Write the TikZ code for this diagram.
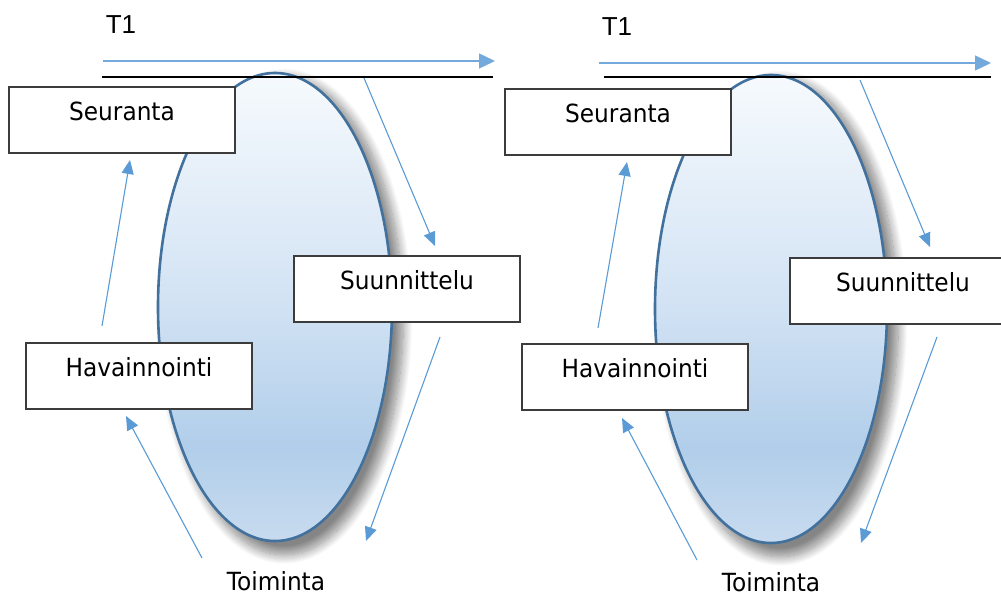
\documentclass[tikz,border=0pt]{standalone}
\usepackage{fontspec}
\setmainfont{DejaVu Sans}[FakeStretch=0.93]
\newfontfamily\tfont{Liberation Sans}
\usetikzlibrary{arrows.meta,shapes.geometric,shadows.blur}
\definecolor{arrowblue}{HTML}{5B9BD5}
\definecolor{ellborder}{HTML}{41719C}
\definecolor{boxborder}{HTML}{3C3C3C}
\definecolor{ctop}{HTML}{F6FAFD}
\definecolor{cmid}{HTML}{D3E3F4}
\definecolor{cdeep}{HTML}{B1CEEA}
\definecolor{cbot}{HTML}{C8DBEF}
\pgfdeclareverticalshading{ellshade}{100bp}{color(0bp)=(cbot); color(25bp)=(cbot); color(35bp)=(cdeep); color(51bp)=(cmid); color(75bp)=(ctop); color(100bp)=(ctop)}
\tikzset{
  cycleell/.style={ellipse, draw=ellborder, line width=2.6pt, shade, shading=ellshade,
    inner sep=0pt, minimum width=234pt, minimum height=468pt,
    blur shadow={shadow xshift=9pt, shadow yshift=-9pt, shadow scale=1.02, shadow blur radius=9pt, shadow blur steps=16, shadow opacity=48}},
  stagebox/.style={draw=boxborder, line width=1.6pt, fill=white, minimum width=226pt,
    inner xsep=0pt, inner ysep=0pt, text height=34pt, text depth=32pt,
    font=\fontsize{25}{30}\selectfont, anchor=north},
  plainlabel/.style={font=\fontsize{25}{30}\selectfont, anchor=base, inner sep=0pt},
  tlabel/.style={font=\tfont\fontsize{26}{30}\selectfont, anchor=base, inner sep=0pt},
  flow/.style={draw=arrowblue, line width=1.1pt, -{Triangle[length=14pt,width=12pt]}},
  timeflow/.style={draw=arrowblue!85, line width=1.4pt, -{Triangle[length=16pt,width=15pt]}},
  baseline/.style={draw=black, line width=1.3pt}
}
\begin{document}
\begin{tikzpicture}[x=1pt,y=-1pt]
\useasboundingbox (0,0) rectangle (1001,596);
% ---------- left panel ----------
\node[cycleell] (E1) at (275,307) {};
\coordinate (L1a) at (102,77); \coordinate (L1b) at (493,77);
\draw[baseline] (L1a) -- (L1b);
\coordinate (A1a) at (103,61); \coordinate (A1b) at (495,61);
\draw[timeflow] (A1a) -- (A1b);
\node[tlabel] (T1a) at (121,34) {T1};
\node[stagebox] (S1) at (122,86) {Seuranta};
\node[stagebox] (P1) at (407,255) {Suunnittelu};
\node[stagebox] (H1) at (139,342) {Havainnointi};
\node[plainlabel] (O1) at (276,590) {Toiminta};
\coordinate (f1s) at (364,78); \coordinate (f1e) at (435,246);
\coordinate (f2s) at (440,337); \coordinate (f2e) at (366,541);
\coordinate (f3s) at (202,558); \coordinate (f3e) at (126,416);
\coordinate (f4s) at (102,326); \coordinate (f4e) at (130,160);
\draw[flow] (f1s) -- (f1e);
\draw[flow] (f2s) -- (f2e);
\draw[flow] (f3s) -- (f3e);
\draw[flow] (f4s) -- (f4e);
% ---------- right panel ----------
\node[cycleell, minimum width=232pt] (E2) at (771,309) {};
\coordinate (L2a) at (604,77); \coordinate (L2b) at (991,77);
\draw[baseline] (L2a) -- (L2b);
\coordinate (A2a) at (599,63); \coordinate (A2b) at (991,63);
\draw[timeflow] (A2a) -- (A2b);
\node[tlabel] (T1b) at (617,36) {T1};
\node[stagebox] (S2) at (618,88) {Seuranta};
\node[stagebox] (P2) at (903,257) {Suunnittelu};
\node[stagebox] (H2) at (635,343) {Havainnointi};
\node[plainlabel] (O2) at (771,591) {Toiminta};
\coordinate (g1s) at (860,80); \coordinate (g1e) at (930,247);
\coordinate (g2s) at (937,337); \coordinate (g2e) at (861,543);
\coordinate (g3s) at (697,560); \coordinate (g3e) at (622,418);
\coordinate (g4s) at (598,328); \coordinate (g4e) at (627,162);
\draw[flow] (g1s) -- (g1e);
\draw[flow] (g2s) -- (g2e);
\draw[flow] (g3s) -- (g3e);
\draw[flow] (g4s) -- (g4e);
\end{tikzpicture}
\end{document}
